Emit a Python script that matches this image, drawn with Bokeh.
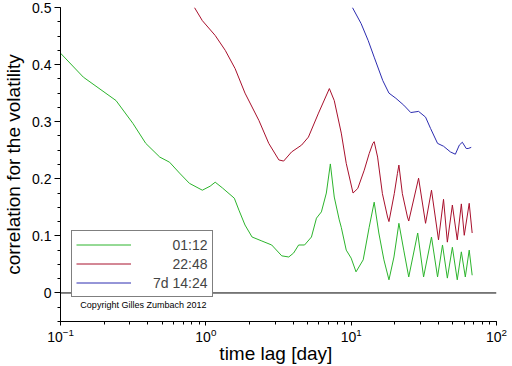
from bokeh.plotting import figure
from bokeh.models import (Range1d, Span, Legend, LegendItem, Label,
                          SingleIntervalTicker)
from bokeh.embed import file_html
from bokeh.resources import INLINE

# ---- data: lag in days, correlation for the volatility ----
lag_0112 = [0.1, 0.1436, 0.241, 0.315, 0.386, 0.482, 0.563, 0.659, 0.771, 0.946,
            1.07, 1.16, 1.30, 1.57, 1.69, 1.86, 2.08, 2.43, 2.84, 3.33, 3.72, 4.02,
            4.35, 4.78, 5.33, 5.77, 6.24, 6.75, 7.19, 7.65, 8.28, 8.55, 9.25, 10.0,
            10.8, 12.1, 13.3, 14.4, 15.5, 16.8, 18.2, 19.7, 21.3, 23.0, 24.9, 28.7,
            31.5, 35.7, 39.3, 42.5, 45.9, 49.7, 53.7, 57.3, 61.0, 64.9, 68.0]
corr_0112 = [0.420, 0.378, 0.337, 0.297, 0.262, 0.238, 0.229, 0.210, 0.192, 0.180,
             0.187, 0.194, 0.184, 0.166, 0.145, 0.119, 0.098, 0.091, 0.084, 0.065,
             0.063, 0.070, 0.084, 0.084, 0.098, 0.131, 0.142, 0.175, 0.226, 0.168,
             0.128, 0.115, 0.075, 0.061, 0.037, 0.058, 0.115, 0.159, 0.105, 0.058,
             0.023, 0.063, 0.122, 0.075, 0.028, 0.105, 0.028, 0.098, 0.028, 0.084,
             0.026, 0.080, 0.023, 0.072, 0.028, 0.075, 0.031]

lag_2248 = [0.835, 0.946, 1.16, 1.36, 1.59, 1.86, 2.32, 2.71, 3.18, 3.43, 3.89,
            4.56, 5.08, 5.96, 7.08, 7.65, 8.55, 9.25, 10.3, 11.1, 12.3, 13.3, 14.1,
            14.4, 15.2, 16.4, 17.8, 18.2, 19.8, 20.8, 21.3, 22.5, 24.4, 24.9, 29.1,
            32.5, 35.7, 39.9, 43.2, 45.9, 49.7, 53.7, 57.3, 60.0, 64.9, 68.0]
corr_2248 = [0.500, 0.477, 0.451, 0.425, 0.393, 0.350, 0.302, 0.262, 0.233, 0.231,
             0.247, 0.259, 0.273, 0.315, 0.358, 0.337, 0.280, 0.227, 0.175, 0.183,
             0.215, 0.244, 0.262, 0.265, 0.238, 0.174, 0.133, 0.125, 0.174, 0.209,
             0.224, 0.174, 0.133, 0.126, 0.201, 0.122, 0.180, 0.093, 0.164, 0.089,
             0.154, 0.093, 0.156, 0.101, 0.157, 0.105]

lag_7d1424 = [10.2, 11.7, 13.1, 14.4, 16.5, 18.2, 20.3, 23.0, 25.7, 29.1, 32.5,
              35.2, 39.3, 43.2, 48.2, 52.1, 55.5, 58.2, 61.9, 63.8, 67.0]
corr_7d1424 = [0.500, 0.472, 0.442, 0.413, 0.372, 0.350, 0.341, 0.329, 0.316, 0.318,
               0.308, 0.288, 0.262, 0.257, 0.247, 0.243, 0.259, 0.264, 0.253, 0.253,
               0.255]

series_labels = ["01:12", "22:48", "7d 14:24"]
series_colors = ["#2cb42c", "#a8102c", "#2c2cb0"]

FONT = "Liberation Sans"

p = figure(width=512, height=366, x_axis_type="log",
           x_range=Range1d(0.1, 100), y_range=Range1d(-0.05, 0.5),
           output_backend="svg", toolbar_location=None,
           min_border_top=7, min_border_right=16, min_border_left=57,
           min_border_bottom=45)
p.outline_line_color = None
p.grid.visible = False
p.background_fill_color = "white"

p.yaxis.ticker = SingleIntervalTicker(interval=0.1, num_minor_ticks=4)
p.yaxis.major_label_overrides = {0: "0"}

for ax in (p.xaxis[0], p.yaxis[0]):
    ax.axis_line_color = "black"
    ax.major_tick_line_color = "black"
    ax.minor_tick_line_color = "black"
    ax.major_tick_in = 0
    ax.minor_tick_in = 0
    ax.major_label_text_font = FONT
    ax.major_label_text_font_size = "14px"
    ax.major_label_text_color = "black"
    ax.axis_label_text_font = FONT
    ax.axis_label_text_font_size = "19px"
    ax.axis_label_text_font_style = "normal"
    ax.axis_label_text_color = "black"

p.yaxis.major_tick_out = 6
p.yaxis.minor_tick_out = 3
p.yaxis.major_label_standoff = 3
p.yaxis.axis_label_standoff = 5
p.xaxis.major_tick_out = 4
p.xaxis.minor_tick_out = 3
p.xaxis.major_label_standoff = 2
p.xaxis.axis_label_standoff = -2

p.xaxis.axis_label = "time lag  [day]"
p.yaxis.axis_label = "correlation for the volatility"

p.add_layout(Span(location=0, dimension="width", line_color="black", line_width=1))

r1 = p.line(lag_0112, corr_0112, line_color=series_colors[0], line_width=1)
r2 = p.line(lag_2248, corr_2248, line_color=series_colors[1], line_width=1)
r3 = p.line(lag_7d1424, corr_7d1424, line_color=series_colors[2], line_width=1)

fs = "\u2007\u2007 "
legend = Legend(items=[
    LegendItem(label=fs + series_labels[0], renderers=[r1]),
    LegendItem(label=fs + series_labels[1], renderers=[r2]),
    LegendItem(label=series_labels[2], renderers=[r3]),
], location=(11, 24))
legend.glyph_width = 55
legend.glyph_height = 19
legend.label_height = 19
legend.label_standoff = 22
legend.spacing = 0
legend.padding = 4
legend.margin = 0
legend.border_line_color = "black"
legend.border_line_width = 1
legend.background_fill_alpha = 1
legend.label_text_font = FONT
legend.label_text_font_size = "14px"
p.add_layout(legend)

p.add_layout(Label(x=0.137, y=-0.021, text="Copyright Gilles Zumbach 2012",
                   text_font=FONT, text_font_size="9px", text_baseline="middle",
                   text_color="black"))

open("out.html", "w").write(file_html(p, INLINE))
